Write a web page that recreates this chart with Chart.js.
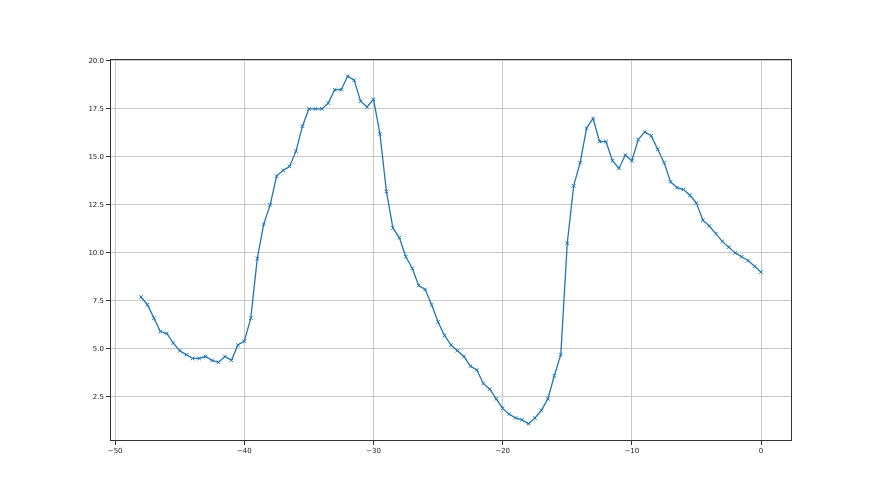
<!DOCTYPE html>
<html>
<head>
<meta charset="utf-8">
<script src="https://cdn.jsdelivr.net/npm/chart.js@4"></script>
<style>
  body { margin: 0; background: #fff; }
  #wrap { width: 880px; height: 495px; }
</style>
</head>
<body>
<div id="wrap"><canvas id="chart"></canvas></div>
<script>
const xValues = [
  -48, -47.5, -47, -46.5, -46, -45.5, -45, -44.5, -44, -43.5,
  -43, -42.5, -42, -41.5, -41, -40.5, -40, -39.5, -39, -38.5,
  -38, -37.5, -37, -36.5, -36, -35.5, -35, -34.5, -34, -33.5,
  -33, -32.5, -32, -31.5, -31, -30.5, -30, -29.5, -29, -28.5,
  -28, -27.5, -27, -26.5, -26, -25.5, -25, -24.5, -24, -23.5,
  -23, -22.5, -22, -21.5, -21, -20.5, -20, -19.5, -19, -18.5,
  -18, -17.5, -17, -16.5, -16, -15.5, -15, -14.5, -14, -13.5,
  -13, -12.5, -12, -11.5, -11, -10.5, -10, -9.5, -9, -8.5,
  -8, -7.5, -7, -6.5, -6, -5.5, -5, -4.5, -4, -3.5,
  -3, -2.5, -2, -1.5, -1, -0.5, 0
];
const yValues = [
  7.7, 7.3, 6.6, 5.9, 5.8, 5.3, 4.9, 4.7, 4.5, 4.5,
  4.6, 4.4, 4.3, 4.6, 4.4, 5.2, 5.4, 6.6, 9.7, 11.5,
  12.5, 14.0, 14.3, 14.5, 15.3, 16.6, 17.5, 17.5, 17.5, 17.8,
  18.5, 18.5, 19.2, 19.0, 17.9, 17.6, 18.0, 16.2, 13.2, 11.3,
  10.8, 9.8, 9.2, 8.3, 8.1, 7.3, 6.4, 5.7, 5.2, 4.9,
  4.6, 4.1, 3.9, 3.2, 2.9, 2.4, 1.9, 1.6, 1.4, 1.3,
  1.1, 1.4, 1.8, 2.4, 3.6, 4.7, 10.5, 13.5, 14.7, 16.5,
  17.0, 15.8, 15.8, 14.8, 14.4, 15.1, 14.8, 15.9, 16.3, 16.1,
  15.4, 14.7, 13.7, 13.4, 13.3, 13.0, 12.6, 11.7, 11.4, 11.0,
  10.6, 10.3, 10.0, 9.8, 9.6, 9.3, 9.0
];
const xTicks = [-50, -40, -30, -20, -10, 0];
const yTicks = [2.5, 5.0, 7.5, 10.0, 12.5, 15.0, 17.5, 20.0];

const points = xValues.map((x, i) => ({ x: x, y: yValues[i] }));

// box round the plot area, like the matplotlib axes frame
const frame = {
  id: "frame",
  afterDraw(chart) {
    const a = chart.chartArea;
    const ctx = chart.ctx;
    ctx.save();
    ctx.strokeStyle = "#333";
    ctx.lineWidth = 1;
    ctx.strokeRect(a.left + 0.5, a.top + 0.5, a.right - a.left - 1, a.bottom - a.top - 1);
    ctx.restore();
  },
};

const ctx = document.getElementById("chart").getContext("2d");
new Chart(ctx, {
  type: "line",
  data: {
    datasets: [
      {
        data: points,
        borderColor: "#1f77b4",
        backgroundColor: "#1f77b4",
        borderWidth: 1.3,
        pointStyle: "crossRot",
        pointRadius: 2.5,
        pointBorderWidth: 1,
        pointHoverRadius: 2.5,
        tension: 0,
        fill: false,
      },
    ],
  },
  options: {
    responsive: true,
    maintainAspectRatio: false,
    animation: false,
    layout: { padding: { left: 0, top: 59, right: 88, bottom: 0 } },
    plugins: { legend: { display: false }, tooltip: { enabled: false } },
    scales: {
      x: {
        type: "linear",
        min: -50.4,
        max: 2.4,
        afterBuildTicks: (axis) => { axis.ticks = xTicks.map((v) => ({ value: v })); },
        afterFit: (scale) => { scale.height = 54; },
        grid: { color: "#c8c8c8", lineWidth: 1, tickLength: 4, tickColor: "#333" },
        border: { display: false },
        ticks: {
          color: "#222",
          padding: 2,
          maxRotation: 0,
          font: { family: "DejaVu Sans", size: 7 },
          callback: (v) => (v < 0 ? "\u2212" + Math.abs(v) : String(v)),
        },
      },
      y: {
        min: 0.2,
        max: 20.1,
        afterBuildTicks: (axis) => { axis.ticks = yTicks.map((v) => ({ value: v })); },
        afterFit: (scale) => { scale.width = 110; },
        grid: { color: "#c8c8c8", lineWidth: 1, tickLength: 4, tickColor: "#333" },
        border: { display: false },
        ticks: {
          color: "#222",
          padding: 2,
          font: { family: "DejaVu Sans", size: 7 },
          callback: (v) => v.toFixed(1),
        },
      },
    },
  },
  plugins: [frame],
});
</script>
</body>
</html>
